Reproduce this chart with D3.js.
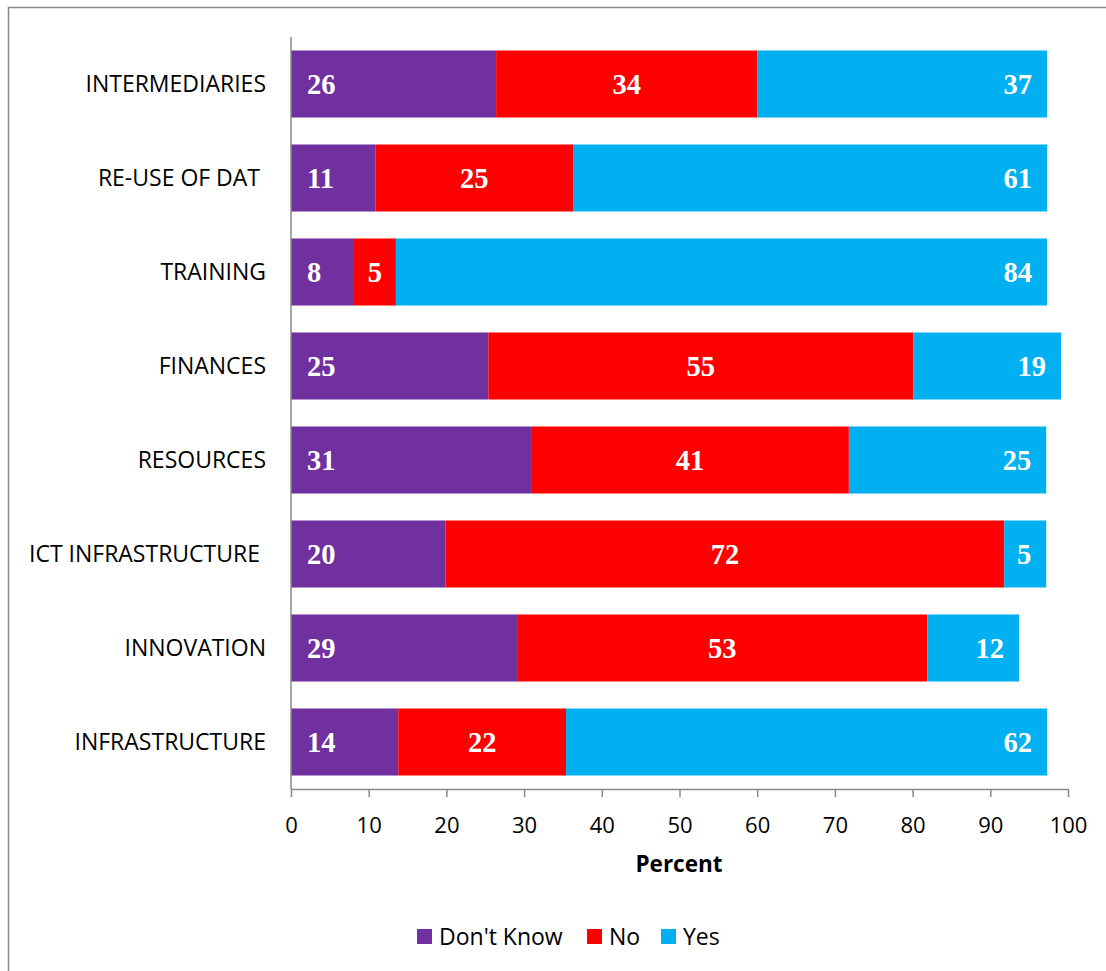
<!DOCTYPE html>
<html>
<head>
  <meta charset="utf-8">
  <title>Stacked bars</title>
  <script src="https://cdn.jsdelivr.net/npm/d3@7/dist/d3.min.js"></script>
  <style>
  body { margin: 0; background: #fff; }
  .catLabel { font-family: "Open Sans", sans-serif; font-size: 23px; fill: #000; white-space: pre; }
  .tick text { font-family: "Open Sans", sans-serif; font-size: 22px; fill: #000; }
  .valLabel { font-family: "Liberation Serif", serif; font-size: 28.5px; font-weight: bold; fill: #fff; }
  .legendText { font-family: "Open Sans", sans-serif; font-size: 23px; fill: #000; }
  </style>
</head>
<body>
<script>
var categories = ['INTERMEDIARIES', 'RE-USE OF DAT ', 'TRAINING', 'FINANCES', 'RESOURCES',
                  'ICT INFRASTRUCTURE ', 'INNOVATION', 'INFRASTRUCTURE'];
var series = ["Don't Know", 'No', 'Yes'];
var dontKnow = [26.4, 10.9, 8.1, 25.4, 30.9, 19.9, 29.1, 13.8];
var no       = [33.6, 25.4, 5.4, 54.7, 40.9, 71.9, 52.8, 21.6];
var yes      = [37.3, 61.0, 83.8, 19.0, 25.4, 5.4, 11.8, 61.9];
var xTicks = [0, 10, 20, 30, 40, 50, 60, 70, 80, 90, 100];
var colors = ['#7030A0', '#FF0000', '#00B0F0'];

var width = 1106, height = 971;
var svg = d3.select('body').append('svg')
  .attr('width', width)
  .attr('height', height);

// outer frame
svg.append('rect')
  .attr('x', 8.5).attr('y', 7.5)
  .attr('width', 1200).attr('height', 1100)
  .attr('fill', 'none')
  .attr('stroke', '#888').attr('stroke-width', 1.5);

var x = d3.scaleLinear().domain([0, 100]).range([291, 1068]);
var y = d3.scaleBand().domain(categories).range([37, 789])
  .paddingInner(0.287).paddingOuter(0.1435);

var rows = categories.map(function(c, i) {
  return {cat: c, vals: [dontKnow[i], no[i], yes[i]]};
});
var stacked = d3.stack().keys([0, 1, 2]).value(function(d, k) { return d.vals[k]; })(rows);

var layers = svg.selectAll('.layer')
  .data(stacked)
  .enter().append('g')
  .attr('class', 'layer')
  .attr('fill', function(d, i) { return colors[i]; });

layers.selectAll('rect')
  .data(function(d) { return d; })
  .enter().append('rect')
  .attr('x', function(d) { return x(d[0]); })
  .attr('y', function(d) { return y(d.data.cat); })
  .attr('width', function(d) { return x(d[1]) - x(d[0]); })
  .attr('height', y.bandwidth());

// value labels: base / center / end like the source
layers.each(function(layer, li) {
  d3.select(this).selectAll('.valLabel')
    .data(layer)
    .enter().append('text')
    .attr('class', 'valLabel')
    .attr('x', function(d) {
      if (li == 0) return x(d[0]) + 16;
      if (li == 1) return (x(d[0]) + x(d[1])) / 2;
      return x(d[1]) - 15;
    })
    .attr('y', function(d) { return y(d.data.cat) + y.bandwidth() / 2 + 10; })
    .style('text-anchor', li == 0 ? 'start' : (li == 1 ? 'middle' : 'end'))
    .text(function(d) { return Math.round(d.data.vals[li]); });
});

// category labels
svg.selectAll('.catLabel')
  .data(categories)
  .enter().append('text')
  .attr('class', 'catLabel')
  .attr('x', 266)
  .attr('y', function(d) { return y(d) + y.bandwidth() / 2 + 8; })
  .style('text-anchor', 'end')
  .text(function(d) { return d; });

// axes
svg.append('line')
  .attr('x1', 291).attr('x2', 291)
  .attr('y1', 37).attr('y2', 789)
  .attr('stroke', '#888').attr('stroke-width', 1.5);

var xAxis = svg.append('g')
  .attr('transform', 'translate(0,789)')
  .call(d3.axisBottom(x).tickValues(xTicks).tickSize(8).tickSizeOuter(0).tickPadding(20));
xAxis.select('.domain').attr('stroke', '#888').attr('stroke-width', 1.5);
xAxis.selectAll('.tick line').attr('stroke', '#888').attr('stroke-width', 1.5);

svg.append('text')
  .attr('x', 679).attr('y', 872)
  .style('text-anchor', 'middle')
  .style('font-family', '"Open Sans", sans-serif')
  .style('font-size', '22.5px')
  .style('font-weight', 'bold')
  .text('Percent');

// legend
var legendX = [417, 587, 661];
var lg = svg.selectAll('.legend')
  .data(series)
  .enter().append('g')
  .attr('class', 'legend')
  .attr('transform', function(d, i) { return 'translate(' + legendX[i] + ',929)'; });
lg.append('rect')
  .attr('width', 15).attr('height', 15)
  .attr('fill', function(d, i) { return colors[i]; });
lg.append('text')
  .attr('class', 'legendText')
  .attr('x', 22).attr('y', 16)
  .text(function(d) { return d; });
</script>
</body>
</html>
